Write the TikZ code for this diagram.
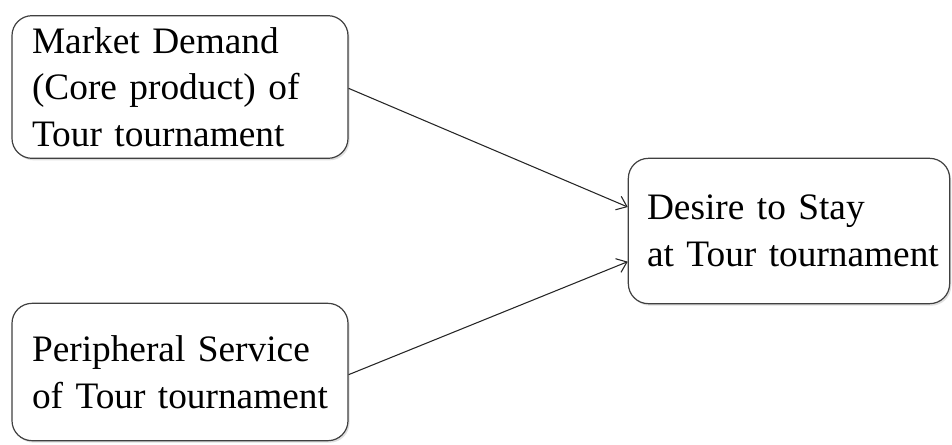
\documentclass[tikz,border=0pt]{standalone}
\usepackage{fontspec}
\setmainfont{Liberation Serif}[WordSpace=0.7]
\usetikzlibrary{arrows.meta,shadows}
\tikzset{
	factorbox/.style={draw=black!75, line width=0.9pt, rounded corners=15pt, fill=white,
		drop shadow={opacity=0.25, shadow xshift=1.2pt, shadow yshift=-1.5pt},
		align=left, anchor=center, inner sep=0pt,
		font=\fontsize{28}{35}\selectfont,
		execute at begin node={\hyphenpenalty=10000\relax\hbadness=10000\relax\hfuzz=30pt\relax}},
	linkarrow/.style={line width=0.8pt, draw=black!85, -{Straight Barb[length=7pt,width=11pt,line width=0.8pt]}}
}

\begin{document}
\begin{tikzpicture}[x=0.75pt,y=-0.75pt]
		%%%%% START %%%%%
		
		\useasboundingbox (0, 0) rectangle (952, 444);
		
		\node[factorbox, minimum width=252pt, minimum height=107pt, text width=222pt] (market) at (180, 87)
			{Market~Demand\\(Core~product)~of\\Tour~tournament};
		\node[factorbox, minimum width=252pt, minimum height=103pt, text width=222pt] (service) at (180, 372)
			{Peripheral~Service\\of~Tour~tournament};
		\node[factorbox, minimum width=241pt, minimum height=109pt, text width=213pt] (desire) at (789, 231)
			{Desire~to~Stay\\at~Tour~tournament};
		
		\draw[linkarrow] ([yshift=-1pt]market.east) -- ([yshift=18pt]desire.west);
		\draw[linkarrow] ([yshift=-2pt]service.east) -- ([yshift=-23pt]desire.west);
		
		%%%%% END %%%%%
\end{tikzpicture}
\end{document}
